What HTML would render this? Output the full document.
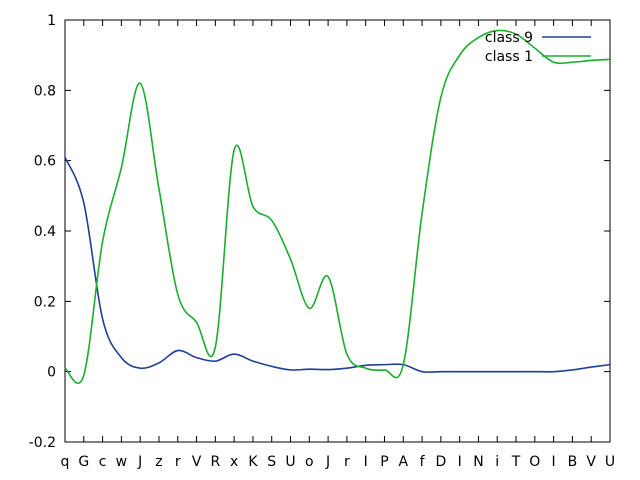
<!DOCTYPE html>
<html><head><meta charset="utf-8"><style>
body{margin:0;background:#fff;}
svg{display:block;font-family:"DejaVu Sans","Liberation Sans",sans-serif;}
</style></head><body>
<svg id="chart" width="640" height="480" viewBox="0 0 640 480" xmlns="http://www.w3.org/2000/svg">
<g id="axes"></g>
<g id="series"></g>
<g id="legend"></g>
</svg>
<script>
const categories = ["q","G","c","w","J","z","r","V","R","x","K","S","U","o","J","r","I","P","A","f","D","I","N","i","T","O","I","B","V","U"];
const class9 = [0.61,0.48,0.15,0.04,0.01,0.025,0.06,0.04,0.03,0.05,0.03,0.015,0.005,0.007,0.006,0.01,0.018,0.02,0.02,0.0,0.0,0.0,0.0,0.0,0.0,0.0,0.0,0.005,0.013,0.02];
const class1 = [0.01,-0.01,0.37,0.58,0.82,0.52,0.22,0.14,0.07,0.63,0.47,0.43,0.32,0.18,0.27,0.05,0.01,0.005,0.02,0.45,0.78,0.9,0.95,0.97,0.96,0.92,0.88,0.88,0.885,0.888];
const yTicks = [-0.2,0,0.2,0.4,0.6,0.8,1];
const yTickLabels = ["-0.2","0","0.2","0.4","0.6","0.8","1"];
const seriesNames = ["class 9","class 1"];
const colors = ["#1f3f9a","#1aad2e"];

const L=65,R=610,T=20,B=442;
const x=i=>L+i*(R-L)/(categories.length-1);
const y=v=>B-(v+0.2)/1.2*(B-T);
const NS="http://www.w3.org/2000/svg";
function mk(tag,attrs,parent){const e=document.createElementNS(NS,tag);for(const k in attrs)e.setAttribute(k,attrs[k]);parent.appendChild(e);return e;}
const axes=document.getElementById('axes');
const frame=mk('rect',{x:L,y:T,width:R-L,height:B-T,fill:'none',stroke:'#000','stroke-width':1},axes);


yTicks.forEach((v,i)=>{
  const t=mk('path',{d:`M${L} ${y(v)}h6M${R} ${y(v)}h-6`,stroke:'#000'},axes);
  
  
  const tx=mk('text',{x:L-9,y:y(v)+5,'text-anchor':'end','font-size':14},axes);
  tx.textContent=yTickLabels[i];
  
  
});
categories.forEach((c,i)=>{
  const t=mk('path',{d:`M${x(i)} ${B}v-6M${x(i)} ${T}v6`,stroke:'#000'},axes);
  
  
  const tx=mk('text',{x:x(i),y:B+24,'text-anchor':'middle','font-size':14},axes);
  tx.textContent=c;
  
  
});
function smooth(vals){
  const p=vals.map((v,i)=>[x(i),y(v)]);
  let d=`M${p[0][0]} ${p[0][1]}`;
  for(let i=0;i<p.length-1;i++){
    const p0=p[Math.max(0,i-1)],p1=p[i],p2=p[i+1],p3=p[Math.min(p.length-1,i+2)];
    const c1=[p1[0]+(p2[0]-p0[0])/6,p1[1]+(p2[1]-p0[1])/6];
    const c2=[p2[0]-(p3[0]-p1[0])/6,p2[1]-(p3[1]-p1[1])/6];
    d+=`C${c1[0]} ${c1[1]} ${c2[0]} ${c2[1]} ${p2[0]} ${p2[1]}`;
  }
  return d;
}
const sg=document.getElementById('series');
[class9,class1].forEach((s,k)=>{
  const p=mk('path',{d:smooth(s),fill:'none',stroke:colors[k],'stroke-width':1.6},sg);
  
  
});
const lg=document.getElementById('legend');
seriesNames.forEach((n,k)=>{
  const yy=37+k*19;
  const tx=mk('text',{x:533,y:yy+5,'text-anchor':'end','font-size':14},lg);
  tx.textContent=n;
  
  
  const ln=mk('path',{d:`M542 ${yy}H591`,stroke:colors[k],'stroke-width':1.6},lg);
  
  
});
</script>
</body></html>
